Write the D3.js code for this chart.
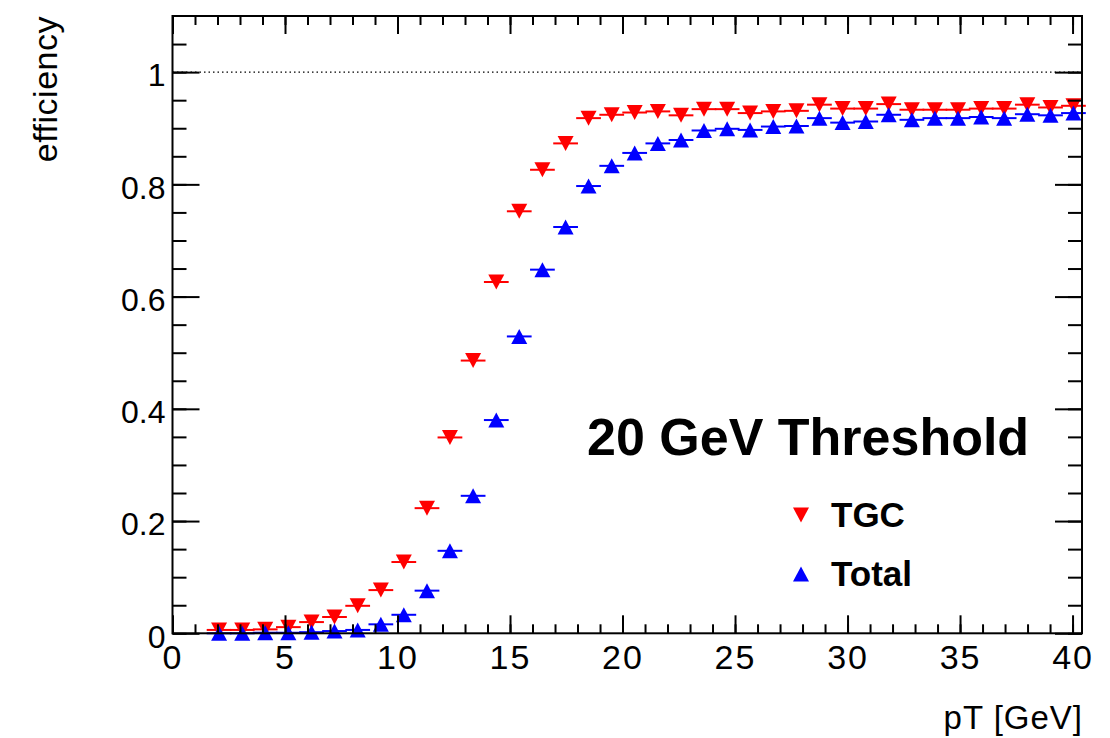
<!DOCTYPE html>
<html><head><meta charset="utf-8">
<script src="https://cdn.jsdelivr.net/npm/d3@7"></script>
<style>
body{margin:0;background:#fff}
text{font-family:"Liberation Sans",Arial,Helvetica,sans-serif}
</style>
</head><body>
<svg id="chart" width="1110" height="738"></svg>
<script>
// ---- data ----
const pt = [2.07, 3.10, 4.12, 5.15, 6.18, 7.20, 8.23, 9.26, 10.28, 11.31,
            12.33, 13.36, 14.39, 15.41, 16.44, 17.47, 18.49, 19.52, 20.54, 21.57,
            22.60, 23.62, 24.65, 25.67, 26.70, 27.73, 28.75, 29.78, 30.81, 31.83,
            32.86, 33.88, 34.91, 35.94, 36.96, 37.99, 39.02, 40.04];
const effTGC = [0.006, 0.006, 0.007, 0.011, 0.020, 0.029, 0.049, 0.077, 0.127, 0.223,
                0.349, 0.486, 0.626, 0.752, 0.826, 0.873, 0.918, 0.924, 0.928, 0.930,
                0.923, 0.934, 0.934, 0.927, 0.930, 0.931, 0.942, 0.935, 0.935, 0.943,
                0.933, 0.933, 0.933, 0.935, 0.935, 0.942, 0.937, 0.940];
const effTotal = [0.000, 0.000, 0.001, 0.001, 0.002, 0.004, 0.006, 0.016, 0.033, 0.076,
                  0.147, 0.245, 0.380, 0.529, 0.648, 0.724, 0.797, 0.833, 0.856, 0.873,
                  0.879, 0.896, 0.899, 0.897, 0.903, 0.904, 0.918, 0.910, 0.912, 0.924,
                  0.915, 0.918, 0.918, 0.920, 0.918, 0.925, 0.923, 0.927];
const binHalfWidth = 0.55;
const xMajorTicks = [0, 5, 10, 15, 20, 25, 30, 35, 40];
const xMinorTicks = d3.range(0, 41, 1);
const yMajorTicks = [0, 0.2, 0.4, 0.6, 0.8, 1.0];
const yMinorTicks = d3.range(0, 22).map(i => i * 0.05);
const yTickLabels = ["0", "0.2", "0.4", "0.6", "0.8", "1"];
const seriesNames = ["TGC", "Total"];
const seriesColors = ["#ff0000", "#0000ff"];
const xTitle = "pT [GeV]";
const yTitle = "efficiency";
const annotation = "20 GeV Threshold";

// ---- layout ----
const svg = d3.select("#chart");
svg.append("rect").attr("width", 1110).attr("height", 738).attr("fill", "#fff");
const L = 172.5, R = 1082, T = 16, B = 633.3;
const x = d3.scaleLinear().domain([0, 40.42]).range([L, R]);
const y = d3.scaleLinear().domain([0, 1.1]).range([B, T]);

// reference line at efficiency = 1
svg.append("line")
  .attr("x1", x(0)).attr("x2", x(40.42)).attr("y1", y(1)).attr("y2", y(1))
  .attr("stroke", "#000").attr("stroke-width", 1.2).attr("stroke-dasharray", "1.5,3");

// triangle marker path, bbox-centered
function tri(cx, cy, up, w = 16, h = 15) {
  const p = d3.path();
  if (up) {
    p.moveTo(cx, cy - h / 2); p.lineTo(cx + w / 2, cy + h / 2); p.lineTo(cx - w / 2, cy + h / 2);
  } else {
    p.moveTo(cx, cy + h / 2); p.lineTo(cx + w / 2, cy - h / 2); p.lineTo(cx - w / 2, cy - h / 2);
  }
  p.closePath();
  return p.toString();
}

const series = [
  { name: seriesNames[0], vals: effTGC, color: seriesColors[0], up: false },
  { name: seriesNames[1], vals: effTotal, color: seriesColors[1], up: true }
];

series.forEach(s => {
  const g = svg.append("g");
  const data = pt.map((p, i) => ({ p, v: s.vals[i] }));
  g.selectAll("line.err").data(data).join("line")
    .attr("x1", d => x(d.p - binHalfWidth)).attr("x2", d => x(d.p + binHalfWidth))
    .attr("y1", d => y(d.v)).attr("y2", d => y(d.v))
    .attr("stroke", s.color).attr("stroke-width", 2);
  g.selectAll("path.m").data(data).join("path")
    .attr("d", d => tri(x(d.p), y(d.v), s.up))
    .attr("fill", s.color);
});

// ---- axes ----
function style(g) {
  g.select(".domain").remove();
  g.selectAll(".tick line").attr("stroke", "#000").attr("stroke-width", 2);
}
// bottom
svg.append("g").attr("transform", `translate(0,${B})`)
  .call(d3.axisBottom(x).tickValues(xMinorTicks).tickSize(-9).tickFormat(""))
  .call(style);
const bx = svg.append("g").attr("transform", `translate(0,${B})`)
  .call(d3.axisBottom(x).tickValues(xMajorTicks).tickSize(-18).tickPadding(12).tickFormat(d => String(d)))
  .call(style);
bx.selectAll("text").attr("font-size", 34).attr("fill", "#000").attr("letter-spacing", 2)
  .attr("font-family", "Liberation Sans, Arial, sans-serif");
// top
svg.append("g").attr("transform", `translate(0,${T})`)
  .call(d3.axisTop(x).tickValues(xMinorTicks).tickSize(-9).tickFormat("")).call(style);
svg.append("g").attr("transform", `translate(0,${T})`)
  .call(d3.axisTop(x).tickValues(xMajorTicks).tickSize(-18).tickFormat("")).call(style);
// left
svg.append("g").attr("transform", `translate(${L},0)`)
  .call(d3.axisLeft(y).tickValues(yMinorTicks).tickSize(-14).tickFormat("")).call(style);
const ly = svg.append("g").attr("transform", `translate(${L},0)`)
  .call(d3.axisLeft(y).tickValues(yMajorTicks).tickSize(-27).tickPadding(7)
    .tickFormat((d, i) => yTickLabels[i]))
  .call(style);
ly.selectAll("text").attr("font-size", 32).attr("fill", "#000").attr("dy", "0.43em")
  .attr("font-family", "Liberation Sans, Arial, sans-serif");
// right
svg.append("g").attr("transform", `translate(${R},0)`)
  .call(d3.axisRight(y).tickValues(yMinorTicks).tickSize(-14).tickFormat("")).call(style);
svg.append("g").attr("transform", `translate(${R},0)`)
  .call(d3.axisRight(y).tickValues(yMajorTicks).tickSize(-27).tickFormat("")).call(style);

// frame
svg.append("rect").attr("x", L).attr("y", T).attr("width", R - L).attr("height", B - T)
  .attr("fill", "none").attr("stroke", "#000").attr("stroke-width", 2);

// axis titles
svg.append("text").attr("x", 1083).attr("y", 729).attr("text-anchor", "end")
  .attr("font-size", 33).attr("letter-spacing", 1).text(xTitle);
svg.append("text").attr("transform", "translate(57,16) rotate(-90)").attr("text-anchor", "end")
  .attr("font-size", 34).attr("letter-spacing", 0.5).text(yTitle);

// annotation
svg.append("text").attr("x", 587).attr("y", 455).attr("font-size", 52).attr("font-weight", "bold")
  .text(annotation);

// legend
const legY = [515, 574];
series.forEach((s, i) => {
  svg.append("path").attr("d", tri(801, legY[i], s.up)).attr("fill", s.color);
  svg.append("text").attr("x", 831).attr("y", legY[i] + 12).attr("font-size", 35)
    .attr("font-weight", "bold").text(s.name);
});
</script>
</body></html>
